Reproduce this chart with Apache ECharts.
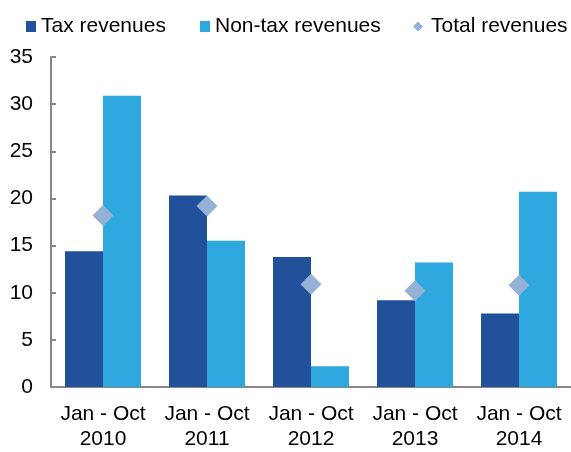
<!DOCTYPE html>
<html>
<head>
<meta charset="utf-8">
<script src="https://cdn.jsdelivr.net/npm/echarts@6/dist/echarts.min.js"></script>
<style>
  html, body { margin: 0; padding: 0; background: #fff; }
  #chart { width: 571px; height: 452px; }
</style>
</head>
<body>
<div id="chart"></div>
<script>
const categories = ['Jan - Oct\n2010', 'Jan - Oct\n2011', 'Jan - Oct\n2012', 'Jan - Oct\n2013', 'Jan - Oct\n2014'];
const taxRevenues = [14.4, 20.3, 13.8, 9.2, 7.8];
const nonTaxRevenues = [30.9, 15.5, 2.2, 13.2, 20.7];
const totalRevenues = [18.2, 19.2, 10.9, 10.2, 10.8];
const yTicks = [0, 5, 10, 15, 20, 25, 30, 35];

const font = 'Liberation Sans, Arial, sans-serif';
const legendText = {fontSize: 21, color: '#000', fontFamily: font};

const chart = echarts.init(document.getElementById('chart'));
chart.setOption({
  animation: false,
  legend: [
    {left: 26, top: 16, padding: 0, itemWidth: 10, itemHeight: 11, icon: 'rect',
     data: ['Tax revenues'], textStyle: legendText, selectedMode: false},
    {left: 200, top: 16, padding: 0, itemWidth: 10, itemHeight: 11, icon: 'rect',
     data: ['Non-tax revenues'], textStyle: legendText, selectedMode: false},
    {left: 413, top: 16, padding: 0, itemWidth: 10, itemHeight: 10, icon: 'diamond',
     data: ['Total revenues'], textStyle: Object.assign({padding: [0, 0, 0, 3]}, legendText), selectedMode: false}
  ],
  grid: {left: 51, top: 57, width: 522, bottom: 57, containLabel: false},
  xAxis: {
    type: 'category',
    data: categories,
    axisLine: {lineStyle: {color: '#878787', width: 2}},
    axisTick: {show: false},
    axisLabel: {fontSize: 21, lineHeight: 25, color: '#000', fontFamily: font, margin: 15, interval: 0}
  },
  yAxis: {
    type: 'value',
    min: yTicks[0],
    max: yTicks[yTicks.length - 1],
    interval: 5,
    axisLine: {show: true, lineStyle: {color: '#878787', width: 2}},
    axisTick: {show: true, inside: true, length: 5, lineStyle: {color: '#878787', width: 2}},
    splitLine: {show: false},
    axisLabel: {fontSize: 21, color: '#000', fontFamily: font, margin: 18}
  },
  series: [
    {
      name: 'Tax revenues',
      type: 'bar',
      data: taxRevenues,
      barWidth: 38,
      barGap: '0%',
      itemStyle: {color: '#21519B'}
    },
    {
      name: 'Non-tax revenues',
      type: 'bar',
      data: nonTaxRevenues,
      barWidth: 38,
      barGap: '0%',
      itemStyle: {color: '#2EA8DF'}
    },
    {
      name: 'Total revenues',
      type: 'scatter',
      data: totalRevenues,
      symbol: 'diamond',
      symbolSize: 21,
      z: 5,
      itemStyle: {color: '#95B1D6', opacity: 1}
    }
  ]
});
</script>
</body>
</html>
